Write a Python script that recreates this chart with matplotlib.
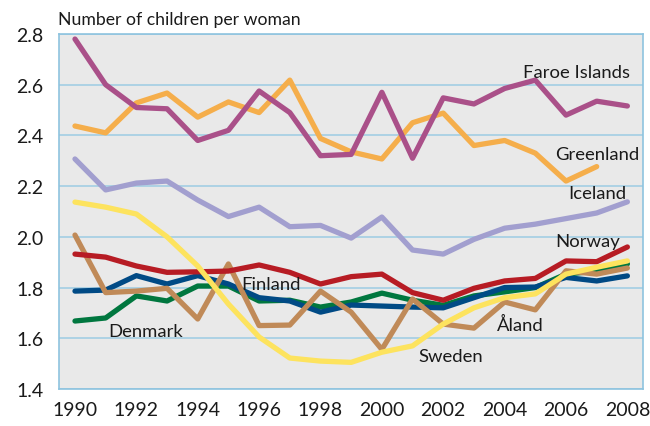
import matplotlib.pyplot as plt

plt.rcParams['font.family'] = ['Lato', 'DejaVu Sans']

years = list(range(1990, 2009))

faroe = [2.78, 2.60, 2.51, 2.505, 2.38, 2.42, 2.575, 2.49, 2.32, 2.325, 2.57, 2.31, 2.548, 2.524,
         2.585, 2.618, 2.48, 2.535, 2.516]
greenland = [2.437, 2.41, 2.528, 2.567, 2.472, 2.532, 2.49, 2.618, 2.388, 2.335, 2.307, 2.45, 2.488,
             2.36, 2.38, 2.33, 2.22, 2.277]
iceland = [2.307, 2.185, 2.212, 2.22, 2.145, 2.08, 2.117, 2.04, 2.045, 1.995, 2.078, 1.948, 1.932,
           1.99, 2.034, 2.05, 2.072, 2.094, 2.138]
sweden = [2.137, 2.117, 2.09, 2.0, 1.885, 1.735, 1.605, 1.522, 1.51, 1.505, 1.545, 1.57, 1.656,
          1.72, 1.76, 1.775, 1.853, 1.88, 1.905]
norway = [1.932, 1.92, 1.885, 1.86, 1.862, 1.865, 1.889, 1.86, 1.814, 1.843, 1.853, 1.78, 1.75,
          1.797, 1.826, 1.836, 1.905, 1.902, 1.96]
finland = [1.786, 1.79, 1.847, 1.814, 1.847, 1.814, 1.76, 1.747, 1.703, 1.731, 1.727, 1.723, 1.72,
           1.76, 1.8, 1.802, 1.84, 1.826, 1.846]
denmark = [1.668, 1.68, 1.767, 1.747, 1.806, 1.806, 1.747, 1.75, 1.723, 1.743, 1.778, 1.75, 1.73,
           1.767, 1.783, 1.8, 1.853, 1.865, 1.893]
aland = [2.007, 1.78, 1.786, 1.797, 1.676, 1.893, 1.65, 1.652, 1.786, 1.703, 1.556, 1.755, 1.656,
         1.64, 1.743, 1.712, 1.866, 1.853, 1.877]

yticks = [1.4, 1.6, 1.8, 2.0, 2.2, 2.4, 2.6, 2.8]
xticks = list(range(1990, 2009, 2))

fig = plt.figure(figsize=(6.5, 4.27), dpi=100)
ax = fig.add_axes([0.0908, 0.0867, 0.898, 0.8314])
ax.set_facecolor('#e9e9e9')

lw = 3.8
ax.plot(years, denmark, color='#00773f', lw=lw, solid_capstyle='round')
ax.plot(years, finland, color='#004a85', lw=lw, solid_capstyle='round')
ax.plot(years, aland, color='#c08a58', lw=lw, solid_capstyle='round')
ax.plot(years, norway, color='#b71c24', lw=lw, solid_capstyle='round')
ax.plot(years, sweden, color='#fde35e', lw=lw, solid_capstyle='round')
ax.plot(years, iceland, color='#a29fcf', lw=lw, solid_capstyle='round')
ax.plot(years[:len(greenland)], greenland, color='#f5ae4b', lw=lw, solid_capstyle='round')
ax.plot(years, faroe, color='#aa5089', lw=lw, solid_capstyle='round')

labels = [("Faroe Islands", 2004.59, 2.65), ("Greenland", 2005.66, 2.327),
          ("Iceland", 2006.08, 2.173), ("Norway", 2005.66, 1.984),
          ("Finland", 1995.43, 1.814), ("Denmark", 1991.1, 1.629),
          ("Sweden", 2001.2, 1.53), ("Åland", 2003.74, 1.656)]
for name, lx, ly in labels:
    ax.text(lx, ly, name, fontsize=13.3, color='#1a1a1a', ha='left', va='center')

ax.set_xlim(1989.48, 2008.5)
ax.set_ylim(1.4, 2.8)
ax.set_xticks(xticks)
ax.set_yticks(yticks)
ax.set_yticklabels([f"{v:.1f}" for v in yticks])
ax.tick_params(length=0, labelsize=14, colors='#1a1a1a')
ax.tick_params(axis='y', pad=11)
ax.tick_params(axis='x', pad=9)
ax.grid(axis='y', color='#9dcbe3', lw=1.1)
ax.set_axisbelow(True)
for s in ax.spines.values():
    s.set_color('#8ec3df')
    s.set_linewidth(1.2)

fig.text(58/650, 1-20/427, "Number of children per woman", fontsize=12.7, color='#1a1a1a',
         ha='left', va='center')

fig.savefig('out.png', dpi=100)
